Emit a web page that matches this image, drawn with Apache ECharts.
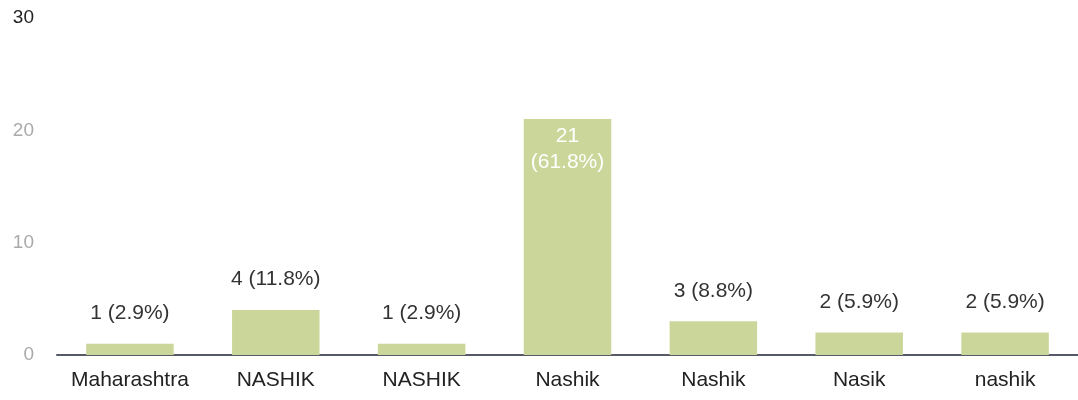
<!DOCTYPE html>
<html>
<head>
<meta charset="utf-8">
<script src="https://cdn.jsdelivr.net/npm/echarts@6/dist/echarts.min.js"></script>
<style>
html,body{margin:0;padding:0;background:#fff;}
#c{width:1078px;height:400px;}
</style>
</head>
<body>
<div id="c"></div>
<script>
const categories = ['Maharashtra', 'NASHIK', 'NASHIK ', 'Nashik', 'Nashik ', 'Nasik', 'nashik'];
const counts = [1, 4, 1, 21, 3, 2, 2];
const percents = ['2.9%', '11.8%', '2.9%', '61.8%', '8.8%', '5.9%', '5.9%'];
const yTicks = [0, 10, 20, 30];

const FONT = 'Liberation Sans, Arial, sans-serif';
const chart = echarts.init(document.getElementById('c'));
const seriesData = counts.map((v, i) => {
  const big = v >= 10;
  return {
    value: v,
    label: big ? {
      position: 'insideTop',
      distance: 4,
      color: '#ffffff',
      formatter: v + '\n(' + percents[i] + ')',
      lineHeight: 26
    } : {
      position: 'top',
      distance: 20,
      formatter: v + ' (' + percents[i] + ')'
    }
  };
});

chart.setOption({
  animation: false,
  grid: {left: 57, right: 0, top: 18, bottom: 45, containLabel: false},
  xAxis: {
    type: 'category',
    data: categories,
    axisLine: {show: true, lineStyle: {color: '#555a66', width: 2}},
    axisTick: {show: false},
    axisLabel: {
      interval: 0,
      color: '#222',
      fontSize: 21,
      fontFamily: FONT,
      margin: 15,
      formatter: v => v.trim()
    }
  },
  yAxis: {
    type: 'value',
    min: yTicks[0],
    max: yTicks[yTicks.length - 1],
    interval: 10,
    splitLine: {show: false},
    axisLine: {show: false},
    axisTick: {show: false},
    axisLabel: {
      fontSize: 19,
      fontFamily: FONT,
      margin: 23,
      align: 'right',
      color: function (v) { return Number(v) === 30 ? '#222' : '#aaa'; }
    }
  },
  series: [{
    type: 'bar',
    data: seriesData,
    barWidth: '60%',
    itemStyle: {color: '#cbd79a'},
    label: {
      show: true,
      color: '#333',
      fontSize: 21,
      fontFamily: FONT
    }
  }]
});
</script>
</body>
</html>
